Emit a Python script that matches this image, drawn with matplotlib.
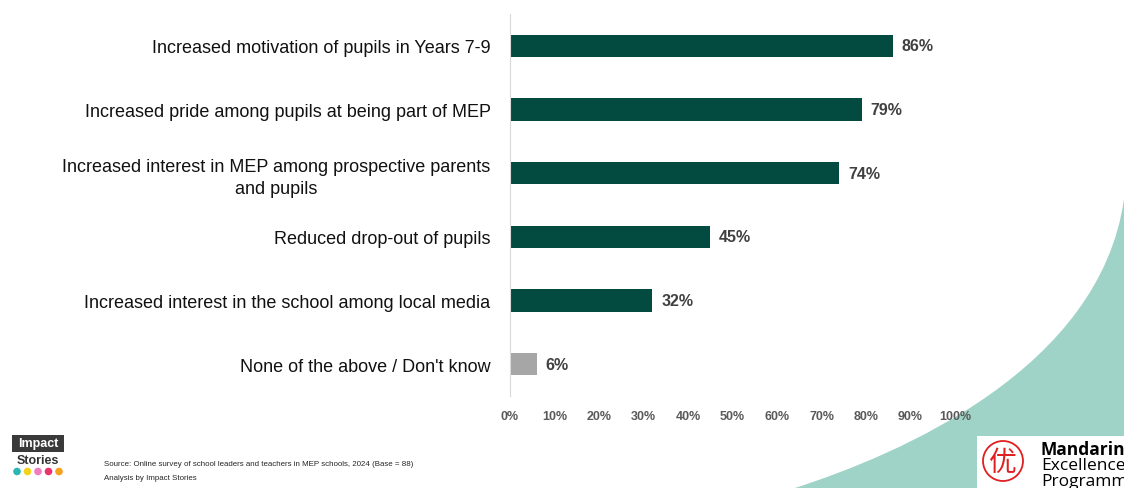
import numpy as np
from matplotlib import pyplot as plt
from matplotlib.patches import PathPatch, Rectangle, Circle
from matplotlib.path import Path
import matplotlib as mpl

mpl.rc('font', family=['Liberation Sans', 'DejaVu Sans'])

categories = ['Increased motivation of pupils in Years 7-9',
              'Increased pride among pupils at being part of MEP',
              'Increased interest in MEP among prospective parents\nand pupils',
              'Reduced drop-out of pupils',
              'Increased interest in the school among local media',
              "None of the above / Don't know"]
values = [86, 79, 74, 45, 32, 6]
bar_colors = ['#034a40', '#034a40', '#034a40', '#034a40', '#034a40', '#a6a6a6']
xticks = [0, 10, 20, 30, 40, 50, 60, 70, 80, 90, 100]

W, H = 1124, 489
fig = plt.figure(figsize=(W / 100, H / 100), dpi=100)

# teal swoosh in the bottom right corner (figure pixel coords)
bg = fig.add_axes([0, 0, 1, 1], zorder=-1)
bg.set_xlim(0, W)
bg.set_ylim(H, 0)
bg.axis('off')
swoosh = Path([(795, 489), (900, 455), (1100, 370), (1124, 200), (1124, 489), (795, 489)],
              [Path.MOVETO, Path.CURVE4, Path.CURVE4, Path.CURVE4, Path.LINETO, Path.CLOSEPOLY])
bg.add_patch(PathPatch(swoosh, color='#9fd3c7', lw=0))

ax = fig.add_axes([510 / W, 1 - 397 / H, 445 / W, 382 / H])
y = np.arange(len(categories))
ax.barh(y, values, height=0.35, color=bar_colors)
ax.set_ylim(len(categories) - 0.5, -0.5)
ax.set_xlim(0, 100)
ax.set_yticks(y)
ax.set_yticklabels(categories, fontsize=13, color='#111111', multialignment='center',
                   linespacing=1.35)
ax.set_xticks(xticks)
ax.set_xticklabels(['%d%%' % v for v in xticks], fontsize=9, fontweight='bold', color='#595959')
ax.tick_params(axis='y', length=0, pad=14)
ax.tick_params(axis='x', length=0, pad=10)
for s in ['top', 'right', 'bottom']:
    ax.spines[s].set_visible(False)
ax.spines['left'].set_color('#d9d9d9')
ax.patch.set_alpha(0)

for yi, v in zip(y, values):
    ax.text(v + 2.0, yi, '%d%%' % v, va='center', ha='left', fontsize=11.5,
            fontweight='bold', color='#404040')

# source note
fig.text(104 / W, 1 - 465 / H, 'Source: Online survey of school leaders and teachers in MEP schools, 2024 (Base = 88)',
         fontsize=5.7, va='center', color='#262626')
fig.text(104 / W, 1 - 479 / H, 'Analysis by Impact Stories', fontsize=5.7, va='center', color='#262626')

# Impact Stories logo
bg.add_patch(Rectangle((12, 436), 52, 17, color='#3a3a3a', lw=0))
bg.text(38, 444.5, 'Impact', color='white', fontsize=9, fontweight='bold', ha='center', va='center')
bg.text(38, 461, 'Stories', color='#333333', fontsize=9, fontweight='bold', ha='center', va='center')
for i, c in enumerate(['#2bb7b3', '#f2d21b', '#f07cc0', '#e8336f', '#f6a21e']):
    bg.add_patch(Circle((17 + i * 10.5, 472.5), 3.8, color=c, lw=0))

# Mandarin Excellence Programme logo
bg.add_patch(Rectangle((977, 437), 150, 55, color='white', lw=0))
bg.add_patch(Circle((1003, 462), 20, fill=False, ec='#e02020', lw=1.3))
bg.text(1003, 463, '优', color='#e02020', fontsize=20, ha='center', va='center',
        family=['Noto Sans CJK SC', 'DejaVu Sans'])
bg.text(1041, 450, 'Mandarin', color='black', fontsize=12.5, fontweight='bold', va='center',
        family=['Open Sans', 'DejaVu Sans'], clip_on=True)
bg.text(1041, 466, 'Excellence', color='black', fontsize=12.5, va='center',
        family=['Open Sans', 'DejaVu Sans'], clip_on=True)
bg.text(1041, 482, 'Programme', color='black', fontsize=12.5, va='center',
        family=['Open Sans', 'DejaVu Sans'], clip_on=True)

fig.savefig('out.png', dpi=100)
